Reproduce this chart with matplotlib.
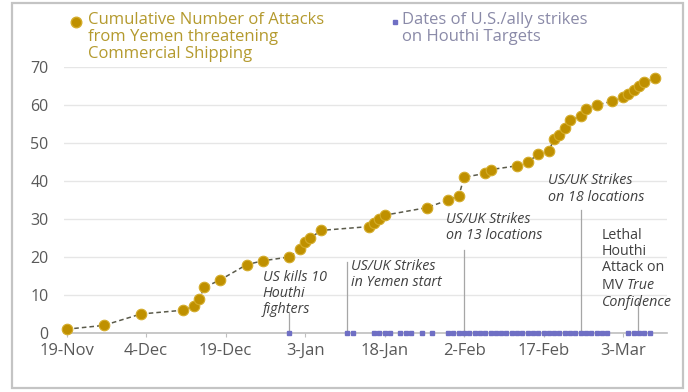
import matplotlib
matplotlib.use("Agg")
import matplotlib.pyplot as plt
import pandas as pd
from matplotlib.lines import Line2D
from matplotlib.patches import Rectangle

# Cumulative attacks from Yemen on commercial shipping
attack_dates = [
    "2023-11-19", "2023-11-26", "2023-12-03", "2023-12-11", "2023-12-13",
    "2023-12-14", "2023-12-15", "2023-12-18", "2023-12-23", "2023-12-26",
    "2023-12-31", "2024-01-02", "2024-01-03", "2024-01-04", "2024-01-06",
    "2024-01-15", "2024-01-16", "2024-01-17", "2024-01-18", "2024-01-26",
    "2024-01-30", "2024-02-01", "2024-02-02", "2024-02-06", "2024-02-07",
    "2024-02-12", "2024-02-14", "2024-02-16", "2024-02-18", "2024-02-19",
    "2024-02-20", "2024-02-21", "2024-02-22", "2024-02-24", "2024-02-25",
    "2024-02-27", "2024-03-01", "2024-03-03", "2024-03-04", "2024-03-05",
    "2024-03-06", "2024-03-07", "2024-03-09",
]
attack_cumulative = [
    1, 2, 5, 6, 7,
    9, 12, 14, 18, 19,
    20, 22, 24, 25, 27,
    28, 29, 30, 31, 33,
    35, 36, 41, 42, 43,
    44, 45, 47, 48, 51,
    52, 54, 56, 57, 59,
    60, 61, 62, 63, 64,
    65, 66, 67,
]

# Days with U.S./allied strikes on Houthi targets
strike_dates = [
    "2023-12-31",
    "2024-01-11", "2024-01-12",
    "2024-01-16", "2024-01-17", "2024-01-18", "2024-01-19",
    "2024-01-21", "2024-01-22", "2024-01-23",
    "2024-01-25", "2024-01-27",
    "2024-01-30", "2024-01-31", "2024-02-01", "2024-02-02", "2024-02-03",
    "2024-02-04", "2024-02-05", "2024-02-06", "2024-02-07", "2024-02-08",
    "2024-02-09", "2024-02-10", "2024-02-11", "2024-02-12", "2024-02-13",
    "2024-02-14", "2024-02-15", "2024-02-16", "2024-02-17", "2024-02-18",
    "2024-02-19", "2024-02-20", "2024-02-21", "2024-02-22", "2024-02-23",
    "2024-02-24", "2024-02-25", "2024-02-26", "2024-02-27",
    "2024-02-28", "2024-02-29",
    "2024-03-04", "2024-03-05", "2024-03-06", "2024-03-07", "2024-03-08",
]

tick_dates = ["2023-11-19", "2023-12-04", "2023-12-19", "2024-01-03",
              "2024-01-18", "2024-02-02", "2024-02-17", "2024-03-03"]
tick_labels = ["19-Nov", "4-Dec", "19-Dec", "3-Jan", "18-Jan", "2-Feb",
               "17-Feb", "3-Mar"]
y_ticks = [0, 10, 20, 30, 40, 50, 60, 70]

legend_attacks = "Cumulative Number of Attacks\nfrom Yemen threatening\nCommercial Shipping"
legend_strikes = "Dates of U.S./ally strikes\non Houthi Targets"

GOLD = "#bf9000"
GOLD_EDGE = "#d4ac2a"
GOLD_TEXT = "#b49a2e"
STRIKE = "#6f6fc4"
STRIKE_TEXT = "#8a8aa8"
GREY_TEXT = "#595959"
NOTE = "#404040"
LEADER = "#a6a6a6"
NOTE_SIZE = 10.3
NOTE_LS = 1.1

plt.rcParams["font.family"] = ["Open Sans", "DejaVu Sans"]

ad = pd.to_datetime(attack_dates)
sd = pd.to_datetime(strike_dates)
td = pd.to_datetime(tick_dates)
T = pd.Timestamp

fig = plt.figure(figsize=(6.88, 3.92), dpi=100)
ax = fig.add_axes([0.093, 0.1505, 0.8765, 0.6785])

ax.plot(ad, attack_cumulative, ls=(0, (3, 2)), color="#5a5a4a", lw=1.1, zorder=3)
ax.plot(ad, attack_cumulative, ls="none", marker="o", ms=7.6, mfc=GOLD,
        mec=GOLD_EDGE, mew=0.8, zorder=4, clip_on=False)
ax.plot(sd, [0] * len(sd), ls="none", marker="s", ms=2.9, color=STRIKE,
        zorder=5, clip_on=False)

ax.set_xlim(T("2023-11-19") - pd.Timedelta(hours=12),
            T("2023-11-19") + pd.Timedelta(days=113.3))
ax.set_ylim(0, 70)
ax.set_yticks(y_ticks)
ax.set_xticks(td)
ax.set_xticklabels(tick_labels)
ax.tick_params(axis="x", length=3, color="#bfbfbf", labelsize=12,
               labelcolor=GREY_TEXT, pad=4)
ax.tick_params(axis="y", length=0, labelsize=11.5, labelcolor=GREY_TEXT, pad=11)
ax.grid(axis="y", color="#e6e6e6", lw=1)
ax.set_axisbelow(True)
for side in ("top", "right", "left"):
    ax.spines[side].set_visible(False)
ax.spines["bottom"].set_color("#bfbfbf")
ax.spines["bottom"].set_linewidth(1.2)


# Event call-outs with leader lines down to the axis
def leader(date, top):
    ax.plot([T(date), T(date)], [0, top], color=LEADER, lw=0.9, zorder=2)


def note(date, y, text, italic=True):
    return ax.text(T(date), y, text, style="italic" if italic else "normal",
                   fontsize=NOTE_SIZE, color=NOTE, va="top", ha="left",
                   linespacing=NOTE_LS)


leader("2023-12-31", 5.3)
note("2023-12-26 00:00", 16.6, "US kills 10\nHouthi\nfighters")

leader("2024-01-11", 18.6)
note("2024-01-11 18:00", 19.6, "US/UK Strikes\nin Yemen start")

leader("2024-02-02", 21.8)
note("2024-01-29 14:00", 31.8, "US/UK Strikes\non 13 locations")

leader("2024-02-24", 32.4)
note("2024-02-17 22:00", 42.0, "US/UK Strikes\non 18 locations")

leader("2024-03-05 20:00", 8.4)
lethal = note("2024-02-28 00:00", 27.6, "Lethal\nHouthi\nAttack on", italic=False)
mv = ax.annotate("MV ", xy=(0, 0), xycoords=lethal, xytext=(0, -1.8),
                 textcoords="offset points", va="top", ha="left",
                 fontsize=NOTE_SIZE, color=NOTE)
ax.annotate("True", xy=(1, 0), xycoords=mv, va="bottom", ha="left",
            style="italic", fontsize=NOTE_SIZE, color=NOTE)
ax.annotate("Confidence", xy=(0, 0), xycoords=mv, xytext=(0, -1.8),
            textcoords="offset points", va="top", ha="left",
            style="italic", fontsize=NOTE_SIZE, color=NOTE)

# Legend drawn across the top of the figure
fig.add_artist(Line2D([76 / 688], [1 - 22 / 392], transform=fig.transFigure,
                      marker="o", ms=7.6, mfc=GOLD, mec=GOLD_EDGE, ls="none"))
fig.text(88 / 688, 1 - 12 / 392, legend_attacks, color=GOLD_TEXT, fontsize=12,
         va="top", ha="left", linespacing=1.07)
fig.add_artist(Line2D([395 / 688], [1 - 22 / 392], transform=fig.transFigure,
                      marker="s", ms=3.4, color=STRIKE, ls="none"))
fig.text(402 / 688, 1 - 12 / 392, legend_strikes, color=STRIKE_TEXT, fontsize=12,
         va="top", ha="left", linespacing=1.07)

# Outer frame
fig.add_artist(Rectangle((12 / 688, 4 / 392), 671 / 688, 385 / 392,
                         transform=fig.transFigure, fill=False,
                         edgecolor="#c4c4c4", lw=1.6))

fig.savefig("out.png", dpi=100)
